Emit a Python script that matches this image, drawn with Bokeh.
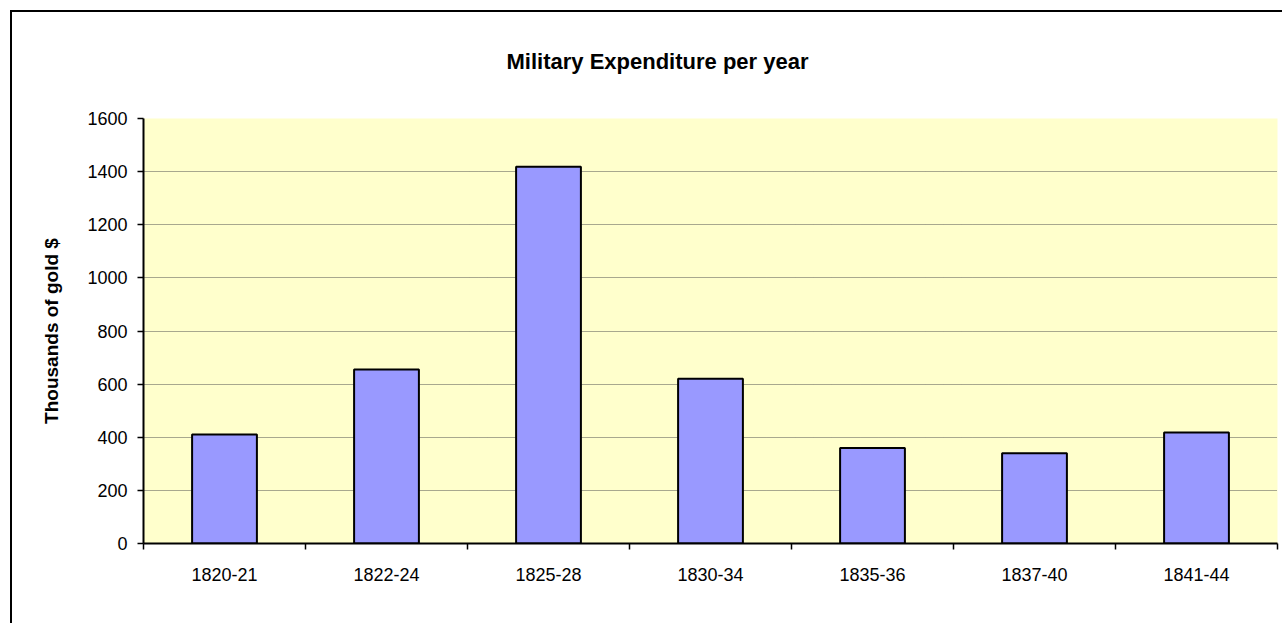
from bokeh.plotting import figure
from bokeh.models import Range1d, FixedTicker, Title, ColumnDataSource, LinearAxis
from bokeh.embed import file_html
from bokeh.resources import INLINE

categories = ["1820-21", "1822-24", "1825-28", "1830-34", "1835-36", "1837-40", "1841-44"]
expenditure = [410, 655, 1418, 620, 360, 340, 418]
y_ticks = [0, 200, 400, 600, 800, 1000, 1200, 1400, 1600]

FONT = "Liberation Sans"

xs = list(range(len(categories)))
src = ColumnDataSource(dict(x=xs, top=expenditure, cat=categories))

p = figure(width=1272, height=613, output_backend="svg", toolbar_location=None,
           x_range=Range1d(-0.5, len(categories) - 0.5), y_range=Range1d(0, 1600),
           min_border_left=131, min_border_right=7, min_border_top=106, min_border_bottom=82,
           title=None)
p.margin = (10, 0, 0, 10)
p.styles = {"border-left": "2px solid black", "border-top": "2px solid black"}
p.background_fill_color = "#FFFFCC"
p.border_fill_color = "white"
p.outline_line_color = None

p.vbar(x="x", top="top", bottom=0, width=0.4, source=src,
       fill_color="#9999FF", line_color="black", line_width=2)

# x axis: labels at centers, tick marks at category boundaries
xa = p.xaxis[0]
xa.ticker = FixedTicker(ticks=xs, minor_ticks=[i - 0.5 for i in range(len(categories) + 1)])
xa.major_label_overrides = {i: c for i, c in enumerate(categories)}
xa.major_tick_out = 0
xa.major_tick_in = 0
xa.minor_tick_out = 6
xa.minor_tick_in = 0
xa.minor_tick_line_color = "black"
xa.minor_tick_line_width = 1.5
xa.axis_line_color = "black"
xa.axis_line_width = 2
xa.major_label_text_font = FONT
xa.major_label_text_font_size = "18px"
xa.major_label_text_color = "black"
xa.major_label_standoff = 18

ya = p.yaxis[0]
ya.ticker = FixedTicker(ticks=y_ticks)
ya.major_tick_out = 6
ya.major_tick_in = 0
ya.major_tick_line_color = "black"
ya.major_tick_line_width = 1.5
ya.minor_tick_line_color = None
ya.axis_line_color = "black"
ya.axis_line_width = 2
ya.major_label_text_font = FONT
ya.major_label_text_font_size = "18px"
ya.major_label_text_color = "black"
ya.major_label_standoff = 10
ya.axis_label = "Thousands of gold $"
ya.axis_label_text_font = FONT
ya.axis_label_text_font_style = "bold"
ya.axis_label_text_font_size = "19px"
ya.axis_label_text_color = "black"
ya.axis_label_standoff = 22

p.xgrid.grid_line_color = None
p.ygrid.grid_line_color = "#505050"
p.ygrid.grid_line_dash = "1 1"
p.ygrid.grid_line_width = 1

# invisible axis used only as a gap between the plot area and the title
gap = LinearAxis(ticker=FixedTicker(ticks=[3], minor_ticks=[]),
                 major_label_overrides={3: ""},
                 axis_line_alpha=0, major_tick_line_alpha=0, minor_tick_line_alpha=0,
                 major_tick_out=40, major_tick_in=0, minor_tick_out=0, minor_tick_in=0,
                 major_label_standoff=0, major_label_text_font_size="1px")
p.add_layout(gap, "above")

title = Title(text="Military Expenditure per year", align="left", offset=363,
              text_font=FONT, text_font_style="bold", text_font_size="22px",
              text_color="black", standoff=10)
p.add_layout(title, "above")

open("out.html", "w").write(file_html(p, INLINE))
